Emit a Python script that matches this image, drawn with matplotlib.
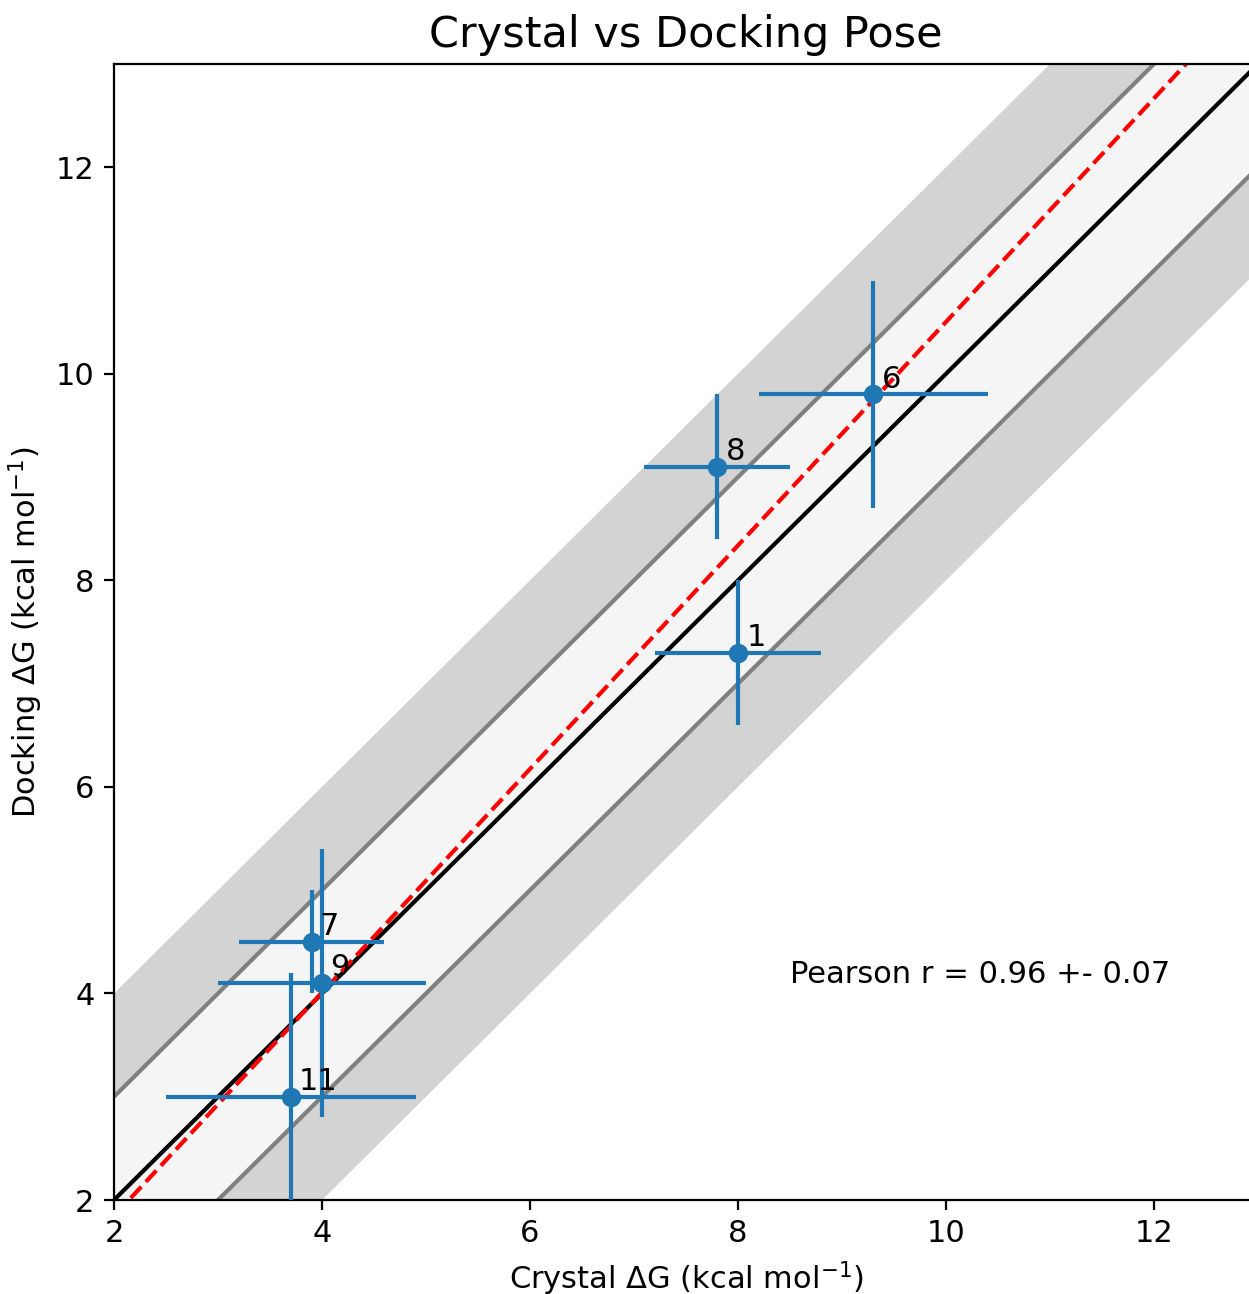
import numpy as np
import matplotlib
matplotlib.use("Agg")
import matplotlib.pyplot as plt

plt.rcParams['font.size'] = 11

# ligand labels and binding free energies (kcal/mol)
labels = ['1', '6', '8', '7', '9', '11']
crystal = [8.0, 9.3, 7.8, 3.9, 4.0, 3.7]
crystal_err = [0.8, 1.1, 0.7, 0.7, 1.0, 1.2]
docking = [7.3, 9.8, 9.1, 4.5, 4.1, 3.0]
docking_err = [0.7, 1.1, 0.7, 0.5, 1.3, 1.2]
pearson_r = 0.96
pearson_err = 0.07

lims = (2, 13)

fig = plt.figure(figsize=(1249 / 200, 1294 / 200), dpi=200)
ax = fig.add_axes([114 / 1249, 94 / 1294, 1144 / 1249, 1136 / 1294])

# shaded bands of +-1 and +-2 kcal/mol around the identity line
xx = np.array([0, 20])
ax.fill_between(xx, xx - 2, xx + 2, color='lightgray', lw=0, zorder=0)
ax.fill_between(xx, xx - 1, xx + 1, color='whitesmoke', lw=0, zorder=0)
ax.plot(xx, xx + 1, color='gray', lw=1.5, zorder=1)
ax.plot(xx, xx - 1, color='gray', lw=1.5, zorder=1)
ax.plot(xx, xx, color='black', lw=1.5, zorder=1)

# best fit
slope, icpt = np.polyfit(crystal, docking, 1)
ax.plot(xx, slope * xx + icpt, color='red', ls='--', lw=1.5, zorder=2)

ax.errorbar(crystal, docking, xerr=crystal_err, yerr=docking_err,
            fmt='o', color='tab:blue', zorder=3)
for lab, x, y in zip(labels, crystal, docking):
    ax.annotate(lab, (x, y), xytext=(3, 2.5), textcoords='offset points', zorder=4)

ax.text(8.5, 4.1, f'Pearson r = {pearson_r:.2f} +- {pearson_err:.2f}')

ax.set_xlim(lims)
ax.set_ylim(lims)
ax.set_xticks([2, 4, 6, 8, 10, 12])
ax.set_yticks([2, 4, 6, 8, 10, 12])
ax.set_xlabel(r'Crystal $\Delta$G (kcal mol$^{-1}$)')
ax.set_ylabel(r'Docking $\Delta$G (kcal mol$^{-1}$)')
ax.set_title('Crystal vs Docking Pose', fontsize=15.5)

fig.savefig('out.png', dpi=200)
